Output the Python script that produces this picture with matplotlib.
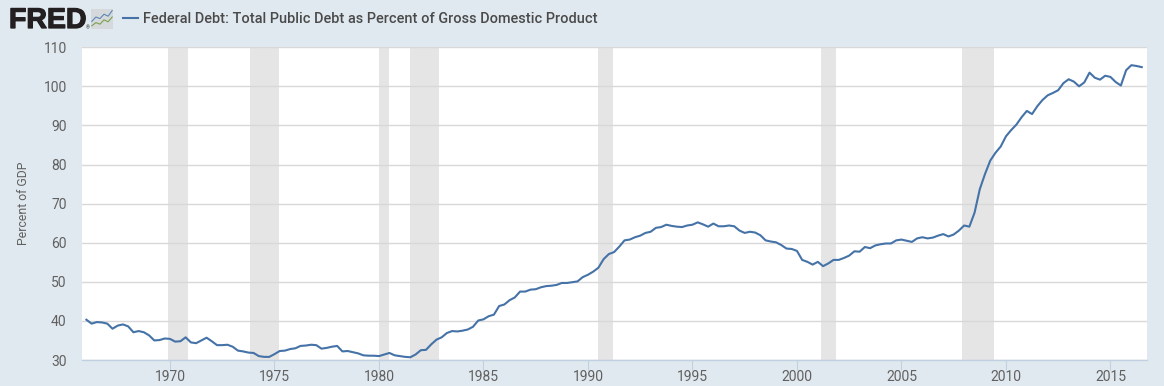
import numpy as np
import matplotlib
matplotlib.use('Agg')
import matplotlib.pyplot as plt
import matplotlib.patheffects as pe
from matplotlib.patches import Rectangle

plt.rcParams['font.family'] = ['Roboto', 'DejaVu Sans']

# quarterly values, one row per year, 1966 Q1 to 2016 Q3
debt = [
    40.3, 39.3, 39.7, 39.6,
    39.3, 38.0, 38.8, 39.1,
    38.6, 37.1, 37.4, 37.1,
    36.3, 35.0, 35.1, 35.5,
    35.4, 34.7, 34.8, 35.8,
    34.5, 34.3, 35.0, 35.7,
    34.8, 33.8, 33.8, 33.9,
    33.4, 32.4, 32.2, 31.9,
    31.8, 31.0, 30.8, 30.8,
    31.5, 32.3, 32.4, 32.8,
    33.0, 33.6, 33.7, 33.9,
    33.8, 32.9, 33.1, 33.4,
    33.6, 32.2, 32.3, 32.0,
    31.7, 31.2, 31.1, 31.1,
    31.0, 31.4, 31.8, 31.2,
    31.0, 30.8, 30.7, 31.4,
    32.5, 32.6, 34.0, 35.2,
    35.8, 36.9, 37.4, 37.3,
    37.5, 37.8, 38.5, 40.1,
    40.4, 41.2, 41.6, 43.8,
    44.2, 45.3, 46.0, 47.5,
    47.5, 48.0, 48.1, 48.6,
    48.9, 49.0, 49.2, 49.7,
    49.7, 49.9, 50.1, 51.2,
    51.8, 52.6, 53.6, 55.8,
    57.1, 57.6, 59.0, 60.6,
    60.8, 61.4, 61.8, 62.5,
    62.8, 63.8, 64.0, 64.6,
    64.3, 64.1, 64.0, 64.4,
    64.6, 65.2, 64.7, 64.1,
    64.9, 64.2, 64.2, 64.4,
    64.2, 63.1, 62.5, 62.8,
    62.6, 61.9, 60.6, 60.3,
    60.1, 59.4, 58.5, 58.4,
    57.9, 55.6, 55.1, 54.4,
    55.1, 54.0, 54.7, 55.6,
    55.6, 56.1, 56.7, 57.8,
    57.7, 58.9, 58.6, 59.3,
    59.6, 59.8, 59.8, 60.6,
    60.8, 60.5, 60.2, 61.1,
    61.4, 61.1, 61.3, 61.8,
    62.2, 61.6, 62.1, 63.1,
    64.4, 64.1, 67.7, 73.7,
    77.6, 81.0, 83.0, 84.6,
    87.2, 88.8, 90.2, 92.1,
    93.7, 92.9, 94.9, 96.5,
    97.7, 98.3, 99.0, 100.8,
    101.8, 101.2, 100.0, 101.0,
    103.5, 102.2, 101.7, 102.7,
    102.4, 101.1, 100.2, 104.1,
    105.4, 105.2, 104.9,
]
first_year = 1966
recession_start = [1969.92, 1973.83, 1980.0, 1981.5, 1990.5, 2001.17, 2007.92]
recession_end = [1970.87, 1975.2, 1980.5, 1982.87, 1991.2, 2001.87, 2009.45]
y_ticks = [30, 40, 50, 60, 70, 80, 90, 100, 110]
x_ticks = [1970, 1975, 1980, 1985, 1990, 1995, 2000, 2005, 2010, 2015]
title = 'Federal Debt: Total Public Debt as Percent of Gross Domestic Product'

# logo icon lines
icon_x = [0, 1, 2, 3, 4, 5]
icon_blue = [1.9, 3.0, 2.6, 3.7, 3.2, 4.6]
icon_green = [0.8, 1.6, 1.2, 2.3, 1.8, 3.0]

W, H = 1164, 386
bg = '#e1e9f0'
fig = plt.figure(figsize=(W / 100, H / 100), dpi=100, facecolor=bg)

left, right, top, bottom = 82, 1147, 47.2, 360
ax = fig.add_axes([left / W, 1 - bottom / H, (right - left) / W, (bottom - top) / H])
ax.set_facecolor('white')

years = first_year + np.arange(len(debt)) / 4
for s, e in zip(recession_start, recession_end):
    ax.axvspan(s, e, color='#e5e5e5', lw=0, zorder=1)
ax.plot(years, debt, color='#4572a7', lw=1.5, zorder=3, solid_joinstyle='round')

ax.set_xlim(1965.79, 2016.75)
ax.set_ylim(30, 110)
ax.set_yticks(y_ticks)
ax.set_xticks(x_ticks)
ax.grid(axis='y', color='#d8d8d8', lw=1, zorder=2)
ax.set_axisbelow(False)
for side in ['top', 'left', 'right']:
    ax.spines[side].set_visible(False)
ax.spines['bottom'].set_color('#c0d0e0')
ax.spines['bottom'].set_linewidth(1)
ax.tick_params(axis='y', length=0, pad=11, labelsize=10, labelcolor='#606060')
ax.tick_params(axis='x', length=7.2, width=0.8, color='#c0d0e0', pad=0, labelsize=10, labelcolor='#606060')

fig.text(24 / W, 1 - 203.5 / H, 'Percent of GDP', rotation=90, ha='center', va='center',
         fontsize=8.8, color='#606060')

# header
logo = fig.text(9 / W, 1 - 28 / H, 'FRED', fontsize=20.5, fontweight='bold', color='#231f20',
                ha='left', va='baseline', family=['Liberation Sans', 'DejaVu Sans'])
logo.set_path_effects([pe.withStroke(linewidth=0.9, foreground='#231f20')])
fig.text(86 / W, 1 - 28 / H, '®', fontsize=3.5, color='#231f20', ha='left', va='center')

icon = fig.add_axes([91 / W, 1 - 29 / H, 22 / W, 20 / H])
icon.plot(icon_x, icon_blue, color='#5b86b5', lw=0.8)
icon.plot(icon_x, icon_green, color='#7aa050', lw=0.8)
icon.set_xlim(-0.2, 5.2)
icon.set_ylim(0, 5)
icon.axis('off')
icon.add_patch(Rectangle((0, 0), 1, 1, transform=icon.transAxes, color='#d6d9db', zorder=0))

legend_y = 1 - 17.5 / H
fig.add_artist(plt.Line2D([122.5 / W, 137.5 / W], [legend_y, legend_y], color='#4572a7', lw=1.5))
fig.text(143 / W, legend_y, title, fontsize=10.45, fontweight='medium', color='#4a4a4a',
         ha='left', va='center_baseline')

fig.savefig('out.png', dpi=100, facecolor=bg)
